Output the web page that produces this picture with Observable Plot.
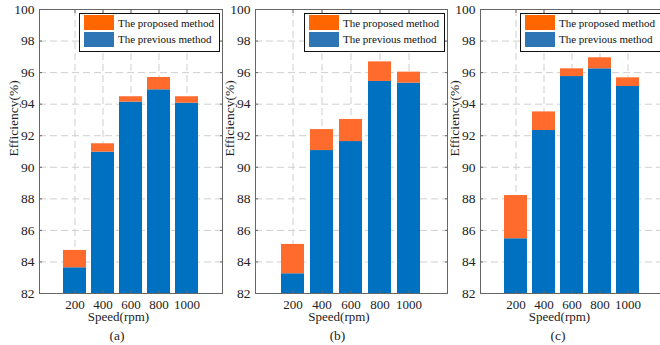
<!DOCTYPE html>
<html><head><meta charset="utf-8">
<script src="https://cdn.jsdelivr.net/npm/d3@7"></script>
<script src="https://cdn.jsdelivr.net/npm/@observablehq/plot@0.6"></script>
<style>
html,body{margin:0;padding:0;background:#fff;overflow:hidden;}
#wrap{position:relative;width:660px;height:345px;overflow:hidden;font-family:"Liberation Serif",serif;}
.panel{position:absolute;top:0;}
.legend{position:absolute;top:13px;width:139px;height:36.5px;border:1.5px solid #111;background:#fff;}
.legend .row{position:absolute;left:3.5px;height:15px;display:flex;align-items:center;}
.legend .sw{width:30px;height:15px;margin-right:4.5px;}
.legend .lab{font-size:11px;color:#111;white-space:nowrap;}
</style></head><body><div id="wrap"></div>
<script>
// ---- data ----
const speeds = ["200", "400", "600", "800", "1000"];
const previousA = [83.63, 90.96, 94.13, 94.91, 94.06];
const proposedA = [84.73, 91.49, 94.47, 95.69, 94.47];
const previousB = [83.25, 91.06, 91.63, 95.44, 95.33];
const proposedB = [85.11, 92.39, 93.03, 96.68, 96.03];
const previousC = [85.47, 92.33, 95.75, 96.24, 95.12];
const proposedC = [88.21, 93.51, 96.24, 96.94, 95.67];
const yDomain = [82, 100];
const yTicks = [82, 84, 86, 88, 90, 92, 94, 96, 98, 100];
const panelLabels = ["(a)", "(b)", "(c)"];
const seriesNames = ["The proposed method", "The previous method"];
const xLabel = "Speed(rpm)";
const yLabel = "Efficiency(%)";

// ---- style ----
const blue = "#0070C0", orange = "#FF6B2C";
const legendColors = ["#FF6600", "#2E75B6"];
const gridColor = "#cfcfcf";
const font = "Liberation Serif";

const series = [[previousA, proposedA], [previousB, proposedB], [previousC, proposedC]];
const layout = [
  {left: 0, ml: 39, pw: 183},
  {left: 222, ml: 33, pw: 192},
  {left: 447, ml: 33, pw: 183}
];

const wrap = document.getElementById("wrap");
series.forEach(([prev, prop], k) => {
  const rows = speeds.map((s, i) => ({speed: s, previous: prev[i], proposed: prop[i]}));
  const {left, ml, pw} = layout[k];
  const chart = Plot.plot({
    width: ml + pw + 3, height: 345,
    marginLeft: ml, marginRight: 3, marginTop: 9, marginBottom: 52,
    style: {fontFamily: font, fontSize: "13.5px", background: "transparent", overflow: "visible", color: "#222"},
    x: {type: "band", domain: speeds, paddingInner: 0.19, paddingOuter: 0.815},
    y: {domain: yDomain},
    marks: [
      Plot.ruleY(yTicks, {y: d => d, stroke: gridColor, strokeDasharray: "7,4"}),
      Plot.ruleX(speeds, {x: d => d, stroke: gridColor, strokeDasharray: "7,4"}),
      Plot.barY(rows, {x: "speed", y1: yDomain[0], y2: "previous", fill: blue}),
      Plot.barY(rows, {x: "speed", y1: "previous", y2: "proposed", fill: orange}),
      Plot.frame({stroke: "#666"}),
      Plot.axisY({anchor: "left", ticks: yTicks, tickSize: -3, tickPadding: 8, label: null, stroke: "#666", fontFamily: font}),
      Plot.axisY({anchor: "right", ticks: yTicks, tickSize: -3, tickFormat: () => "", label: null, stroke: "#666"}),
      Plot.axisX({anchor: "bottom", tickSize: -3, tickPadding: 9, label: null, stroke: "#666", fontFamily: font, fontSize: 13}),
      Plot.axisX({anchor: "top", tickSize: -3, tickFormat: () => "", label: null, stroke: "#666"}),
      Plot.text([xLabel], {text: d => d, frameAnchor: "bottom", dx: -12.5, dy: 27.5, fontSize: 13, fill: "#222", fontFamily: font}),
      Plot.text([panelLabels[k]], {text: d => d, frameAnchor: "bottom", dx: -14, dy: 46, fontSize: 13.5, fill: "#222", fontFamily: font}),
      Plot.text([yLabel], {text: d => d, frameAnchor: "left", rotate: -90, dx: -26, dy: 5, fontSize: 13.5, fill: "#222", fontFamily: font})
    ]
  });
  chart.classList.add("panel");
  chart.style.left = left + "px";
  wrap.appendChild(chart);

  const lg = document.createElement("div");
  lg.className = "legend";
  lg.style.left = (left + ml + pw - 143) + "px";
  seriesNames.forEach((name, j) => {
    const r = document.createElement("div");
    r.className = "row";
    r.style.top = (j === 0 ? 1.2 : 17.8) + "px";
    r.innerHTML = `<div class="sw" style="background:${legendColors[j]}"></div><div class="lab">${name}</div>`;
    lg.appendChild(r);
  });
  wrap.appendChild(lg);
});
</script>
</body></html>
